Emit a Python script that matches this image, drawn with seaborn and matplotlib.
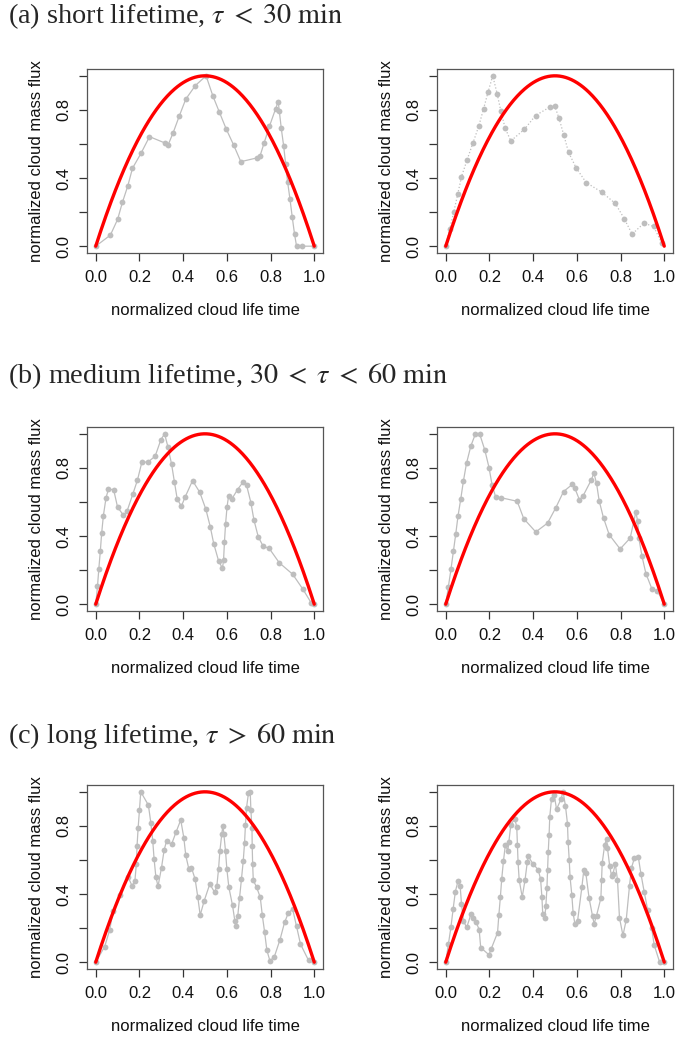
import numpy as np
import matplotlib
matplotlib.use("Agg")
import matplotlib.pyplot as plt
import seaborn as sns

# ---------------- data ----------------
short1_x = [0, 0.067, 0.10, 0.122, 0.147, 0.168, 0.208, 0.246, 0.316, 0.331, 0.354, 0.382, 0.412,
            0.456, 0.505, 0.536, 0.566, 0.597, 0.631, 0.664, 0.737, 0.752, 0.771, 0.795, 0.823,
            0.835, 0.840, 0.849, 0.860, 0.869, 0.878, 0.889, 0.899, 0.910, 0.919, 0.945, 1.0]
short1_y = [0, 0.065, 0.157, 0.257, 0.355, 0.457, 0.547, 0.643, 0.606, 0.594, 0.665, 0.763, 0.863,
            0.943, 1.0, 0.882, 0.786, 0.688, 0.594, 0.496, 0.518, 0.53, 0.608, 0.704, 0.806,
            0.849, 0.794, 0.692, 0.588, 0.482, 0.378, 0.275, 0.173, 0.069, 0.0, 0.0, 0.0]

short2_x = [0, 0.018, 0.037, 0.055, 0.072, 0.098, 0.124, 0.151, 0.173, 0.194, 0.215, 0.235, 0.252,
            0.272, 0.298, 0.360, 0.411, 0.478, 0.498, 0.518, 0.540, 0.562, 0.597, 0.643, 0.713,
            0.776, 0.817, 0.853, 0.907, 0.951, 0.988]
short2_y = [0, 0.10, 0.202, 0.306, 0.408, 0.508, 0.604, 0.704, 0.806, 0.906, 1.0, 0.896, 0.794,
            0.692, 0.618, 0.686, 0.767, 0.818, 0.825, 0.753, 0.653, 0.551, 0.459, 0.373, 0.318,
            0.251, 0.161, 0.071, 0.135, 0.116, 0.02]

medium1_x = [0, .008, .014, .021, .027, .035, .047, .058, .082, .100, .127, .144, .170, .191, .211,
             .240, .272, .298, .315, .330, .347, .360, .373, .392, .409, .443, .476, .504, .524,
             .540, .562, .580, .585, .589, .594, .601, .608, .624, .649, .676, .690, .710, .724,
             .744, .766, .794, .840, .901, .947, .986, 1.0]
medium1_y = [0, .104, .206, .312, .416, .520, .624, .675, .672, .569, .522, .549, .647, .729, .833,
             .835, .869, .965, 1.0, .925, .822, .718, .616, .575, .629, .725, .657, .557, .455,
             .355, .255, .210, .261, .365, .469, .573, .635, .620, .673, .720, .700, .596, .494,
             .394, .341, .327, .243, .176, .090, .008, 0]

medium2_x = [0, .012, .024, .035, .046, .056, .069, .081, .095, .115, .136, .156, .179, .198, .212,
             .229, .253, .327, .357, .412, .466, .504, .539, .580, .591, .612, .629, .666, .678,
             .690, .702, .722, .748, .798, .844, .870, .878, .884, .898, .916, .944, .968, 1.0]
medium2_y = [0, .102, .206, .310, .414, .516, .620, .724, .827, .929, 1.0, .996, .904, .802, .700,
             .627, .625, .604, .502, .424, .476, .567, .661, .704, .680, .612, .637, .729, .769,
             .710, .608, .506, .408, .324, .388, .541, .490, .386, .282, .180, .088, .080, 0]

long1_x = [0, .041, .064, .079, .110, .148, .166, .179, .186, .189, .194, .200, .206, .241, .252,
           .261, .267, .275, .285, .301, .313, .324, .347, .368, .389, .403, .412, .426, .438,
           .455, .467, .478, .496, .522, .544, .554, .562, .568, .577, .582, .586, .594, .600,
           .609, .626, .637, .641, .650, .658, .667, .675, .681, .685, .690, .699, .707, .710,
           .715, .716, .718, .721, .736, .753, .762, .773, .783, .797, .817, .843, .864, .881,
           .901, .919, .937, .974, 1.0]
long1_y = [0, .092, .190, .298, .396, .500, .449, .475, .578, .682, .788, .892, 1.0, .922, .818,
           .710, .606, .502, .445, .555, .659, .710, .692, .765, .835, .731, .627, .547, .555,
           .486, .382, .276, .359, .459, .410, .445, .547, .651, .755, .802, .755, .651, .547,
           .441, .333, .239, .214, .273, .376, .490, .594, .700, .804, .906, .994, 1.0, .892,
           .786, .682, .578, .480, .441, .380, .278, .175, .071, .008, .031, .131, .233, .288,
           .312, .210, .106, .010, 0]

long2_x = [0, .012, .024, .034, .044, .056, .066, .072, .081, .096, .115, .125, .140, .153, .160,
           .198, .208, .237, .243, .250, .256, .264, .273, .284, .289, .298, .316, .325, .328,
           .331, .336, .350, .363, .373, .377, .400, .423, .434, .440, .444, .453, .458, .463,
           .466, .469, .473, .476, .484, .496, .507, .527, .537, .548, .557, .560, .565, .569,
           .577, .583, .591, .603, .623, .632, .641, .656, .672, .679, .690, .710, .713, .716,
           .727, .736, .740, .750, .759, .765, .776, .786, .795, .811, .826, .841, .850, .863,
           .881, .893, .908, .924, .942, .954, .979, 1.0]
long2_y = [0, .104, .208, .314, .414, .476, .447, .343, .241, .204, .280, .261, .233, .190, .086,
           .043, .078, .173, .276, .382, .486, .592, .690, .653, .708, .808, .841, .794, .690,
           .586, .484, .382, .484, .586, .622, .576, .543, .488, .384, .280, .261, .327, .433,
           .539, .645, .749, .853, .959, .984, .898, .955, 1.0, .916, .814, .708, .602, .498,
           .394, .288, .225, .239, .441, .543, .524, .376, .269, .225, .273, .376, .480, .582,
           .686, .724, .671, .567, .504, .518, .576, .484, .261, .157, .249, .449, .553, .610,
           .620, .520, .414, .308, .202, .100, 0, 0]

headers = [r"(a) short lifetime, $\tau\;<\;30\ \mathrm{min}$",
           r"(b) medium lifetime, $30\;<\;\tau\;<\;60\ \mathrm{min}$",
           r"(c) long lifetime, $\tau\;>\;60\ \mathrm{min}$"]
x_ticks = [0.0, 0.2, 0.4, 0.6, 0.8, 1.0]
x_ticklabels = ["0.0", "0.2", "0.4", "0.6", "0.8", "1.0"]
y_ticks = [0.0, 0.2, 0.4, 0.6, 0.8, 1.0]
y_ticklabels = ["0.0", "", "0.4", "", "0.8", ""]
xlabel = "normalized cloud life time"
ylabel = "normalized cloud mass flux"

panels = [[(short1_x, short1_y, "-"), (short2_x, short2_y, ":")],
          [(medium1_x, medium1_y, "-"), (medium2_x, medium2_y, "-")],
          [(long1_x, long1_y, "-"), (long2_x, long2_y, "-")]]

# ---------------- style ----------------
sns.set_theme(style="ticks")
plt.rcParams['font.family'] = ['Liberation Sans', 'DejaVu Sans']
plt.rcParams['mathtext.fontset'] = 'stix'

GRAY = "#bebebe"
RED = "#ff0000"
FW, FH = 675, 1041

fig = plt.figure(figsize=(FW / 100, FH / 100), dpi=100)
fig.patch.set_facecolor("white")

lefts = [87, 437]
tops = [69, 427, 785]
AW, AH = 236, 184
header_y = [16, 376, 736]

px = np.linspace(0, 1, 300)
py = 4 * px * (1 - px)

for r, top in enumerate(tops):
    fig.text(8 / FW, 1 - header_y[r] / FH, headers[r], ha="left", va="center",
             fontsize=20.3, family="Liberation Serif")
    for c in range(2):
        ax = fig.add_axes([lefts[c] / FW, 1 - (top + AH) / FH, AW / FW, AH / FH])
        xs, ys, ls = panels[r][c]
        sns.lineplot(x=xs, y=ys, ax=ax, sort=False, estimator=None, color=GRAY,
                     linestyle=ls, linewidth=0.9, marker="o", markersize=4.2,
                     markeredgewidth=0, markerfacecolor=GRAY, zorder=2)
        sns.lineplot(x=px, y=py, ax=ax, sort=False, estimator=None, color=RED,
                     linewidth=2.4, zorder=3)
        ax.set_xlim(-0.04, 1.04)
        ax.set_ylim(-0.04, 1.04)
        ax.set_xticks(x_ticks)
        ax.set_xticklabels(x_ticklabels)
        ax.set_yticks(y_ticks)
        ax.set_yticklabels(y_ticklabels, rotation=90, va="center")
        ax.tick_params(axis="both", direction="out", length=6, width=0.9,
                       color="#333333", labelsize=12, labelcolor="#111111")
        ax.tick_params(axis="x", pad=6)
        ax.tick_params(axis="y", pad=5)
        for s in ax.spines.values():
            s.set_visible(True)
            s.set_color("#555555")
            s.set_linewidth(0.9)
        ax.set_xlabel(xlabel, fontsize=12, labelpad=13, color="#111111")
        ax.set_ylabel(ylabel, fontsize=12, labelpad=9, color="#111111")
        ax.set_facecolor("white")

fig.savefig("out.png", dpi=100, facecolor="white")
